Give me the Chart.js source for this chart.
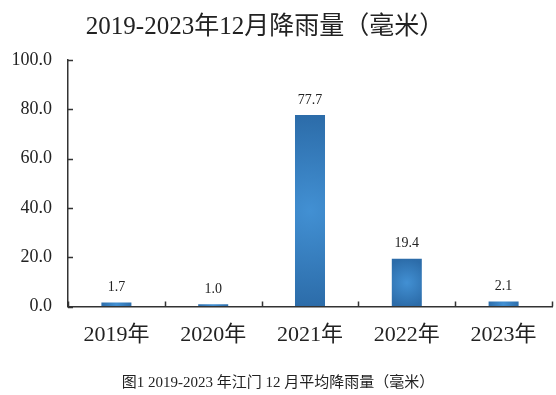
<!DOCTYPE html>
<html>
<head>
<meta charset="utf-8">
<script src="https://cdn.jsdelivr.net/npm/chart.js@4"></script>
<style>
  html, body { margin: 0; padding: 0; background: #fff; }
  #wrap { width: 556px; height: 395px; }
</style>
</head>
<body>
<div id="wrap"><canvas id="rainChart" width="556" height="395"></canvas></div>
<script>
const years = ['2019年', '2020年', '2021年', '2022年', '2023年'];
const rainfall = [1.7, 1.0, 77.7, 19.4, 2.1];
const chartTitle = '2019-2023年12月降雨量（毫米）';
const caption = '图1 2019-2023 年江门 12 月平均降雨量（毫米）';

const serif = '"Liberation Serif", "Noto Sans CJK SC", serif';

// radial shading of each bar, lighter in the middle
const barFill = function(context) {
    const chart = context.chart;
    if (!chart.chartArea || context.dataIndex === undefined) return '#3a82c4';
    const xs = chart.scales.x, ys = chart.scales.y;
    const cx = xs.getPixelForValue(context.dataIndex);
    const top = ys.getPixelForValue(context.raw);
    const base = ys.getPixelForValue(0);
    const cy = (top + base) / 2;
    const r = Math.max((base - top) / 2, 16);
    const g = chart.ctx.createRadialGradient(cx, cy, 0, cx, cy, r);
    g.addColorStop(0, '#4290d3');
    g.addColorStop(1, '#2c6ca9');
    return g;
};

// short tick marks pointing into the plot, like the original
const innerTicks = {
    id: 'innerTicks',
    afterDraw(chart) {
        const ctx = chart.ctx;
        const xs = chart.scales.x, ys = chart.scales.y;
        const area = chart.chartArea;
        ctx.save();
        ctx.strokeStyle = '#333';
        ctx.lineWidth = 1.5;
        ctx.beginPath();
        ys.ticks.forEach(function(t) {
            const y = Math.round(ys.getPixelForValue(t.value)) + 0.5;
            ctx.moveTo(area.left, y);
            ctx.lineTo(area.left + 5, y);
        });
        for (let i = 0; i <= years.length; i++) {
            const x = Math.round(xs.getPixelForValue(i - 0.5)) + 0.5;
            ctx.moveTo(x, area.bottom);
            ctx.lineTo(x, area.bottom - 5);
        }
        ctx.stroke();
        ctx.restore();
    }
};

const textPlugin = {
    id: 'texts',
    afterDatasetsDraw(chart) {
        const ctx = chart.ctx;
        ctx.save();
        ctx.fillStyle = '#222';
        ctx.textAlign = 'center';
        ctx.textBaseline = 'bottom';
        ctx.font = '14px ' + serif;
        const meta = chart.getDatasetMeta(0);
        meta.data.forEach(function(bar, i) {
            ctx.fillText(rainfall[i].toFixed(1), bar.x, bar.y - 8);
        });
        ctx.textBaseline = 'middle';
        ctx.font = '25px ' + serif;
        ctx.fillText(chartTitle, 265, 27);
        ctx.font = '15px ' + serif;
        ctx.fillText(caption, 278, 383);
        ctx.restore();
    }
};

new Chart(document.getElementById('rainChart'), {
    type: 'bar',
    data: {
        labels: years,
        datasets: [{
            data: rainfall,
            backgroundColor: barFill,
            categoryPercentage: 1,
            barPercentage: 0.31
        }]
    },
    options: {
        responsive: false,
        animation: false,
        devicePixelRatio: 1,
        layout: { padding: { top: 60, left: 4, right: 4, bottom: 32 } },
        plugins: {
            legend: { display: false },
            tooltip: { enabled: false },
            title: { display: false }
        },
        scales: {
            x: {
                offset: true,
                grid: { offset: true, display: true, drawOnChartArea: false, drawTicks: false },
                border: { color: '#333', width: 1.5 },
                ticks: { color: '#222', font: { family: serif, size: 22 }, padding: 15, maxRotation: 0 }
            },
            y: {
                min: 0,
                max: 100,
                afterFit: function(scale) { scale.width = 64; },
                grid: { drawOnChartArea: false, drawTicks: false },
                border: { color: '#333', width: 1.5 },
                ticks: {
                    stepSize: 20,
                    color: '#222',
                    font: { family: serif, size: 18 },
                    padding: 16,
                    callback: function(v) { return v.toFixed(1); }
                }
            }
        }
    },
    plugins: [innerTicks, textPlugin]
});
</script>
</body>
</html>
